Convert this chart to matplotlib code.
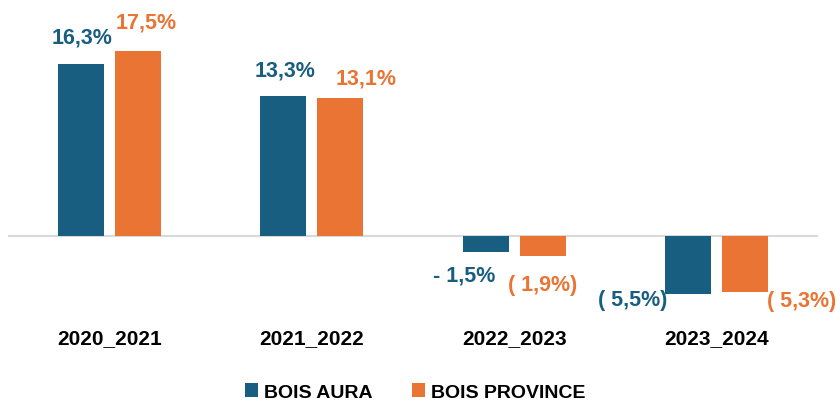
import matplotlib.pyplot as plt
import numpy as np

plt.rcParams['font.family'] = ['Liberation Sans', 'DejaVu Sans']

categories = ['2020_2021', '2021_2022', '2022_2023', '2023_2024']
series_names = ['BOIS AURA', 'BOIS PROVINCE']
aura = [16.3, 13.3, -1.5, -5.5]
province = [17.5, 13.1, -1.9, -5.3]
aura_labels = ['16,3%', '13,3%', '- 1,5%', '( 5,5%)']
province_labels = ['17,5%', '13,1%', '( 1,9%)', '( 5,3%)']

BLUE = '#175E80'
ORANGE = '#E97434'

# label nudges in pixels (dx, dy up) relative to bar end
aura_offsets = [(1, 27), (2, 26), (-22, -23), (-56, -5)]
province_offsets = [(8, 29), (26, 20), (0, -28), (56, -9)]
PX = 72 / 100

fig = plt.figure(figsize=(8.4, 4.02), dpi=100)
W, H = 840, 402
ax = fig.add_axes([8 / W, 1 - 300 / H, 810 / W, 290 / H])

x = np.arange(len(categories))
width = 0.227
off = 0.141
b1 = ax.bar(x - off, aura, width, color=BLUE, label=series_names[0], zorder=3)
b2 = ax.bar(x + off, province, width, color=ORANGE, label=series_names[1], zorder=3)

ax.axhline(0, color='#d9d9d9', lw=1.5, zorder=2)
ax.set_xlim(-0.5, 3.5)
ax.set_ylim(-5.97, 21.5)
ax.axis('off')

for bars, labels, offs, col in [(b1, aura_labels, aura_offsets, BLUE),
                                 (b2, province_labels, province_offsets, ORANGE)]:
    for rect, lab, (dx, dy) in zip(bars, labels, offs):
        h = rect.get_height()
        xc = rect.get_x() + rect.get_width() / 2
        ax.annotate(lab, (xc, h), xytext=(dx * PX, dy * PX), textcoords='offset points',
                    ha='center', va='center', fontsize=15.5, fontweight='bold',
                    color=col)

for i, c in enumerate(categories):
    ax.annotate(c, (i, 0), xycoords=('data', 'axes fraction'),
                xytext=(0, -39 * PX), textcoords='offset points',
                ha='center', va='center', fontsize=15, fontweight='bold',
                color='black')

fig.legend(handles=[b1, b2], labels=series_names, loc='center',
           bbox_to_anchor=(415 / W, 1 - 393 / H), ncol=2, frameon=False,
           prop={'weight': 'bold', 'size': 14}, handlelength=0.7,
           handleheight=0.7, handletextpad=0.3, columnspacing=2.0)

fig.savefig('out.png', dpi=100)
